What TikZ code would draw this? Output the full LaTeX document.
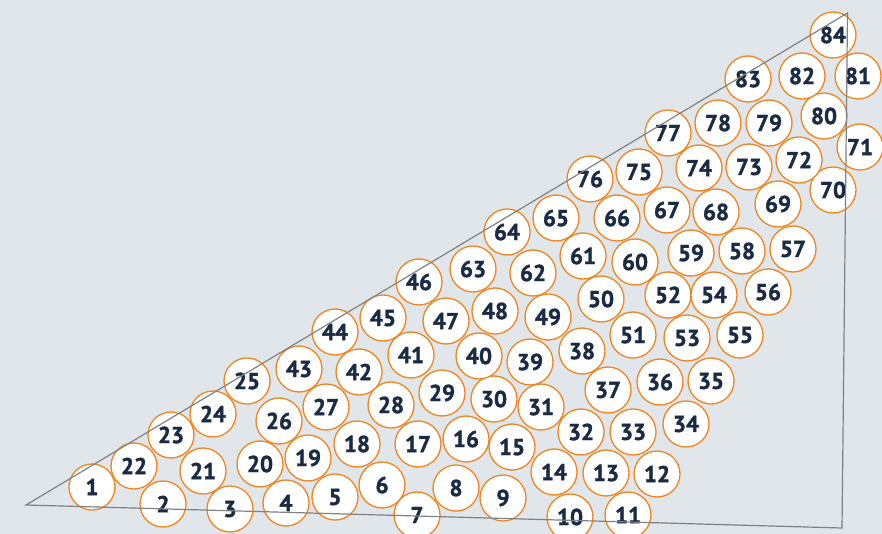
\documentclass[tikz,border=0pt]{standalone}
\usepackage{fontspec}
\setmainfont{PT Sans}
\newfontfamily\numfont{PT Sans}[FakeBold=1.6,UprightFont={* Bold}]
\definecolor{bgc}{HTML}{E1E6EA}
\definecolor{ringc}{HTML}{F0841E}
\definecolor{numc}{HTML}{1A2B44}
\definecolor{edgec}{HTML}{7F8185}
\begin{document}
\begin{tikzpicture}[x=1pt,y=-1pt,
  ball/.style={circle,draw=ringc,line width=1.3pt,fill=white,minimum size=46pt,inner sep=0pt,
    text=numc,font=\numfont\fontsize{23}{23}\selectfont},
  edge/.style={draw=edgec,line width=1.2pt}]
\fill[bgc] (0,0) rectangle (882,534);
\useasboundingbox (0,0) rectangle (882,534);
\foreach \n/\x/\y in {
1/92/487, 2/163/504, 3/230/509, 4/286/503, 5/335/497, 6/382/485, 7/417/515, 8/456/488,
9/503/498, 10/570/517, 11/628/515, 12/657/474, 13/606/473, 14/554/472, 15/512/447,
16/466/439, 17/418/444, 18/357/444, 19/308/458, 20/260/464, 21/203/471, 22/134/466,
23/171/435, 24/213/414, 25/247/381, 26/279/421, 27/326/407, 28/391/405, 29/442/393,
30/494/399, 31/541/407, 32/581/432, 33/633/432, 34/686/424, 35/711/381, 36/660/382,
37/608/390, 38/582/351, 39/530/362, 40/479/356, 41/411/355, 42/359/372, 43/299/369,
44/335/332, 45/383/318, 46/419/282, 47/446/321, 48/495/311, 49/548/317, 50/601/299,
51/633/335, 52/668/295, 53/687/338, 54/714/295, 55/740/335, 56/768/292, 57/793/249,
58/742/251, 59/691/253, 60/635/262, 61/583/256, 62/533/273, 63/473/269, 64/507/232,
65/556/218, 66/617/218, 67/667/210, 68/716/212, 69/778/204, 70/833/190, 71/860/147,
72/799/160, 73/749/167, 74/699/168, 75/639/172, 76/590/179, 77/668/133, 78/718/123,
79/769/123, 80/824/116, 81/858/76, 82/802/76, 83/748/79, 84/833/35}
  \node[ball] (c\n) at (\x,\y) {\n};
\coordinate (A) at (26,505);
\coordinate (B) at (847.5,13);
\coordinate (C) at (842,528);
\draw[edge] (A) -- (B) -- (C) -- cycle;
\end{tikzpicture}
\end{document}
